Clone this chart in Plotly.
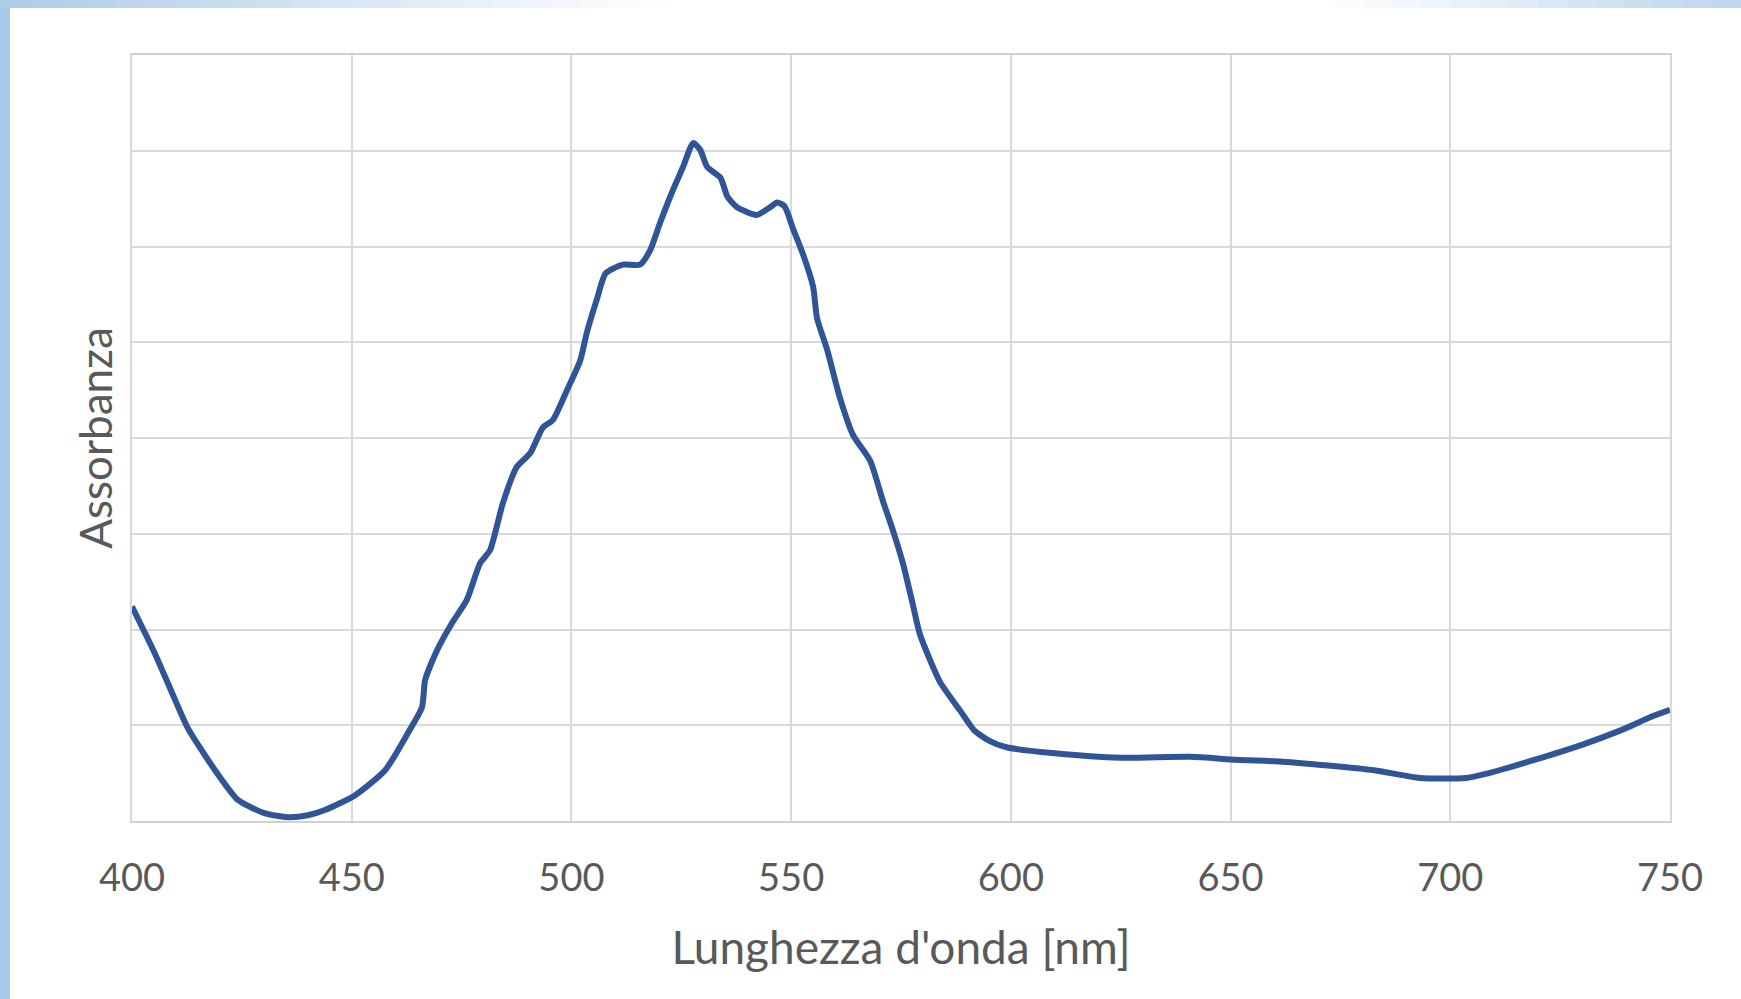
import plotly.graph_objects as go

# Wavelength [nm] and absorbance values
wavelength = [400, 405.2, 409.1, 412.7, 418.9, 424.1, 430.3, 435.5, 440, 443.9,
              450.8, 457.6, 462.8, 466, 466.7, 469.4, 473, 476.2, 479.2, 481.5,
              484.4, 487.6, 490.6, 493.5, 495.8, 499, 502, 503.5, 505.8, 507.8,
              511.7, 515.6, 517.9, 520.2, 523.1, 525.4, 527.7, 529.3, 530.9, 533.9,
              535.5, 537.7, 542.2, 545.2, 546.8, 548.5, 550.4, 552.7, 555, 555.9,
              558.2, 561.1, 564.1, 568, 570.9, 573.2, 575.5, 577.7, 579.3, 583.9,
              588.5, 591.6, 595, 599, 609.4, 625, 640.8, 651.3, 661.7, 672.2,
              682.7, 693.1, 703.6, 708.8, 719.3, 729.6, 740, 745.3, 750]
absorbance = [0.224, 0.175, 0.134, 0.097, 0.053, 0.022, 0.008, 0.004, 0.006, 0.0115,
              0.027, 0.053, 0.092, 0.119, 0.147, 0.178, 0.208, 0.231, 0.269, 0.283,
              0.332, 0.370, 0.384, 0.411, 0.419, 0.450, 0.481, 0.510, 0.545, 0.572,
              0.581, 0.581, 0.596, 0.625, 0.659, 0.683, 0.708, 0.701, 0.683, 0.672,
              0.652, 0.641, 0.633, 0.641, 0.646, 0.642, 0.619, 0.592, 0.558, 0.525,
              0.492, 0.442, 0.403, 0.376, 0.334, 0.303, 0.268, 0.226, 0.195, 0.145,
              0.115, 0.095, 0.084, 0.077, 0.071, 0.066, 0.067, 0.064, 0.062, 0.058,
              0.053, 0.045, 0.045, 0.050, 0.064, 0.079, 0.097, 0.108, 0.116]

x_ticks = [400, 450, 500, 550, 600, 650, 700, 750]
y_grid = [0, 0.1, 0.2, 0.3, 0.4, 0.5, 0.6, 0.7, 0.8]

W, H = 1741, 999
L, R, T, B = 132, 71, 55, 178
PW, PH = W - L - R, H - T - B

fig = go.Figure()
fig.add_trace(go.Scatter(
    x=wavelength, y=absorbance, mode="lines",
    line=dict(color="#2F5597", width=6, shape="spline", smoothing=0.6),
    hoverinfo="x+y", showlegend=False,
))

def px2paper_x(px):
    return (px - L) / PW

def px2paper_y(py):
    return (H - B - py) / PH

shapes = []
# left border bar
shapes.append(dict(type="rect", xref="paper", yref="paper",
                   x0=px2paper_x(0), x1=px2paper_x(10),
                   y0=px2paper_y(H), y1=px2paper_y(0),
                   fillcolor="#a9c9ea", line=dict(width=0), layer="below"))
# top gradient bar
n = 60
left_c = (174, 203, 233)
right_c = (188, 213, 239)
for i in range(n):
    xa = W * i / n
    xb = W * (i + 1) / n + 1
    xm = (xa + xb) / 2
    if xm < 660:
        t = 1 - xm / 660
        c = left_c
    elif xm > 1330:
        t = (xm - 1330) / (W - 1330)
        c = right_c
    else:
        t = 0
        c = left_c
    col = tuple(int(255 + (cc - 255) * t) for cc in c)
    shapes.append(dict(type="rect", xref="paper", yref="paper",
                       x0=px2paper_x(xa), x1=px2paper_x(xb),
                       y0=px2paper_y(8), y1=px2paper_y(0),
                       fillcolor="rgb(%d,%d,%d)" % col, line=dict(width=0), layer="below"))

font_family = "Lato, 'Open Sans', sans-serif"
fig.update_layout(
    width=W, height=H,
    margin=dict(l=L, r=R, t=T, b=B),
    paper_bgcolor="white", plot_bgcolor="white",
    shapes=shapes,
    font=dict(family=font_family, color="#595959"),
    xaxis=dict(
        range=[400, 750], tickvals=x_ticks, ticktext=[str(v) for v in x_ticks],
        showgrid=True, gridcolor="#d9d9d9", gridwidth=2,
        showline=True, linecolor="#d0d0d0", linewidth=2, mirror=True,
        zeroline=False, ticks="", ticklabelstandoff=22,
        tickfont=dict(size=38, color="#595959", family=font_family),
        title=dict(text="Lunghezza d'onda [nm]", standoff=34,
                   font=dict(size=46, color="#595959", family=font_family)),
    ),
    yaxis=dict(
        range=[0, 0.8], tickvals=y_grid, showticklabels=False,
        showgrid=True, gridcolor="#d9d9d9", gridwidth=2,
        showline=True, linecolor="#d9d9d9", linewidth=2, mirror=True,
        zeroline=False, ticks="",
        title=dict(text="Assorbanza", standoff=4,
                   font=dict(size=44, color="#595959", family=font_family)),
    ),
)

fig.write_html("out.html",
               config={"displayModeBar": False},
               post_script="document.body.style.margin='0';document.body.style.overflow='hidden';")
